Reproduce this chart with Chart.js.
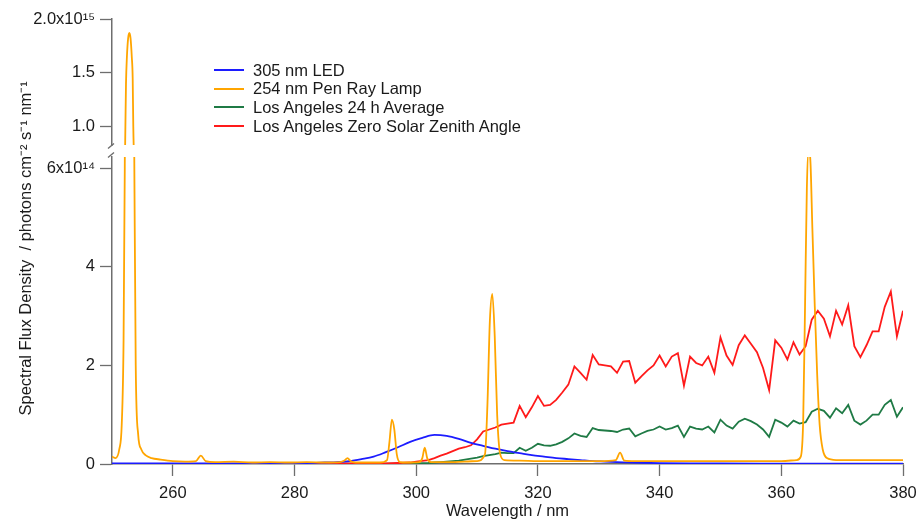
<!DOCTYPE html>
<html>
<head>
<meta charset="utf-8">
<script src="https://cdn.jsdelivr.net/npm/chart.js@4.4.1/dist/chart.umd.min.js"></script>
<style>
  html, body { margin: 0; padding: 0; background: #fff; }
  #wrap { position: relative; width: 920px; height: 520px; }
  #legend { position: absolute; left: 214px; top: 60.6px; font-family: 'Liberation Sans', Arial, sans-serif; font-size: 16.5px; color: #1a1a1a; }
  #legend .row { height: 18.7px; line-height: 18.7px; white-space: nowrap; display: flex; align-items: center; }
  #legend .swatch { width: 30px; height: 2px; margin-right: 9px; }
</style>
</head>
<body>
<div id="wrap">
  <canvas id="c" width="920" height="520"></canvas>
  <div id="legend"></div>
</div>
<script>
// ---- Data (flux in units of 1e14 photons cm^-2 s^-1 nm^-1) ----
const seriesNames = ['305 nm LED', '254 nm Pen Ray Lamp', 'Los Angeles 24 h Average', 'Los Angeles Zero Solar Zenith Angle'];
const seriesColors = ['#1c1cff', '#ffa500', '#1f7a45', '#ff1a1a'];

const wlLed = [250, 255, 260, 265, 270, 275, 280, 283, 285, 287, 289, 291, 293, 295, 297, 299, 301, 303, 305, 307, 309, 311, 313, 315, 317, 319, 321, 323, 325, 327, 329, 331, 334, 337, 340, 345, 350, 360, 370, 380];
const fluxLed = [0.01, 0.01, 0.01, 0.01, 0.01, 0.01, 0.015, 0.02, 0.03, 0.04, 0.06, 0.1, 0.15, 0.24, 0.34, 0.45, 0.53, 0.59, 0.57, 0.51, 0.43, 0.37, 0.31, 0.26, 0.22, 0.18, 0.15, 0.12, 0.1, 0.08, 0.06, 0.05, 0.035, 0.025, 0.018, 0.012, 0.01, 0.008, 0.006, 0.005];

const wlLamp = [250, 250.6, 251.2, 251.6, 251.9, 252.1, 252.2, 252.3, 252.45, 252.65, 252.85, 253.05, 253.25, 253.4, 253.5, 253.7, 253.9, 254.3, 254.8, 255.5, 256.5, 258, 260, 262, 263.8, 264.6, 265.4, 267, 270, 273, 276, 279, 282, 285, 287.5, 288.2, 288.7, 289.2, 290, 292, 294, 295.2, 295.6, 296.0, 296.4, 296.8, 297.3, 298.5, 300.5, 301.0, 301.4, 301.8, 302.4, 304, 306, 308, 310, 311.3, 311.7, 312.1, 312.5, 312.9, 313.3, 313.8, 314.5, 317, 320, 325, 330, 332.8, 333.5, 334.2, 336, 340, 345, 350, 355, 360, 362.5, 363.2, 363.6, 363.9, 364.2, 364.5, 364.8, 365.1, 365.5, 365.9, 366.3, 366.8, 367.5, 369, 372, 376, 380];
const fluxLamp = [0.15, 0.12, 0.3, 0.8, 2.5, 6.0, 10.0, 14.0, 16.5, 18.2, 18.7, 18.2, 16.5, 14.5, 10.0, 5.5, 2.0, 0.6, 0.3, 0.18, 0.12, 0.09, 0.06, 0.05, 0.06, 0.17, 0.06, 0.04, 0.05, 0.03, 0.04, 0.03, 0.04, 0.03, 0.04, 0.07, 0.12, 0.06, 0.03, 0.03, 0.03, 0.08, 0.45, 0.9, 0.7, 0.2, 0.04, 0.03, 0.04, 0.12, 0.33, 0.12, 0.04, 0.04, 0.04, 0.05, 0.06, 0.2, 1.2, 2.9, 3.45, 2.6, 1.0, 0.2, 0.08, 0.07, 0.06, 0.06, 0.06, 0.08, 0.23, 0.07, 0.06, 0.06, 0.06, 0.06, 0.06, 0.06, 0.08, 0.15, 0.9, 3.2, 5.6, 6.4, 6.1, 4.8, 3.2, 1.8, 0.8, 0.3, 0.12, 0.08, 0.08, 0.08, 0.08];

const wlSolar = [280, 281, 282, 283, 284, 285, 286, 287, 288, 289, 290, 291, 292, 293, 294, 295, 296, 297, 298, 299, 300, 301, 302, 303, 304, 305, 306, 307, 308, 309, 310, 311, 312, 313, 314, 315, 316, 317, 318, 319, 320, 321, 322, 323, 324, 325, 326, 327, 328, 329, 330, 331, 332, 333, 334, 335, 336, 337, 338, 339, 340, 341, 342, 343, 344, 345, 346, 347, 348, 349, 350, 351, 352, 353, 354, 355, 356, 357, 358, 359, 360, 361, 362, 363, 364, 365, 366, 367, 368, 369, 370, 371, 372, 373, 374, 375, 376, 377, 378, 379, 380];
const fluxZenith = [0.01, 0.01, 0.01, 0.01, 0.01, 0.01, 0.01, 0.01, 0.01, 0.01, 0.01, 0.01, 0.01, 0.01, 0.01, 0.01, 0.015, 0.02, 0.025, 0.03, 0.05, 0.065, 0.08, 0.12, 0.17, 0.21, 0.26, 0.31, 0.34, 0.38, 0.5, 0.66, 0.7, 0.74, 0.8, 0.82, 0.84, 1.18, 0.95, 1.15, 1.38, 1.18, 1.2, 1.3, 1.45, 1.61, 1.98, 1.85, 1.71, 2.21, 2.02, 2.0, 1.98, 1.85, 2.08, 2.09, 1.65, 1.78, 1.9, 2.0, 2.2, 1.98, 2.18, 2.25, 1.59, 2.18, 2.05, 2.0, 2.18, 1.85, 2.57, 2.2, 2.01, 2.41, 2.61, 2.44, 2.27, 1.95, 1.5, 2.51, 2.36, 2.12, 2.47, 2.22, 2.39, 2.93, 3.11, 2.95, 2.59, 3.11, 2.83, 3.22, 2.39, 2.17, 2.41, 2.69, 2.69, 3.19, 3.5, 2.59, 3.11];
const fluxAverage = [0.005, 0.005, 0.005, 0.005, 0.005, 0.005, 0.005, 0.005, 0.005, 0.005, 0.005, 0.005, 0.005, 0.005, 0.005, 0.005, 0.005, 0.005, 0.005, 0.01, 0.01, 0.015, 0.02, 0.03, 0.04, 0.05, 0.06, 0.07, 0.09, 0.11, 0.13, 0.16, 0.18, 0.2, 0.23, 0.22, 0.22, 0.33, 0.27, 0.33, 0.41, 0.38, 0.37, 0.4, 0.45, 0.52, 0.62, 0.57, 0.55, 0.73, 0.69, 0.68, 0.67, 0.65, 0.7, 0.72, 0.56, 0.62, 0.67, 0.7, 0.76, 0.7, 0.73, 0.78, 0.55, 0.76, 0.72, 0.7, 0.76, 0.64, 0.9, 0.78, 0.72, 0.86, 0.92, 0.87, 0.8, 0.7, 0.55, 0.9, 0.84, 0.76, 0.88, 0.82, 0.85, 1.06, 1.12, 1.08, 0.94, 1.13, 1.03, 1.2, 0.88, 0.8, 0.88, 1.0, 1.0, 1.2, 1.3, 0.96, 1.15];

const xTicks = [260, 280, 300, 320, 340, 360, 380];
const lowTicks = [0, 2, 4, 6];
const lowLabels = ['0', '2', '4', '6x10\u00B9\u2074'];
const topTicks = [10, 15, 20];
const topLabels = ['1.0', '1.5', '2.0x10\u00B9\u2075'];

// ---- helpers ----
const pts = (xs, ys) => xs.map((x, i) => ({ x: x, y: ys[i] }));
const FONT = "'Liberation Sans', Arial, sans-serif";
const AXIS = '#6e6e6e';
const TXT = '#1a1a1a';

// HTML legend
const legendEl = document.getElementById('legend');
seriesNames.forEach((n, i) => {
  const r = document.createElement('div'); r.className = 'row';
  const s = document.createElement('span'); s.className = 'swatch'; s.style.background = seriesColors[i];
  const t = document.createElement('span'); t.textContent = n;
  r.appendChild(s); r.appendChild(t); legendEl.appendChild(r);
});

const clipToScale = {
  id: 'clipToScale',
  beforeDatasetDraw(chart, args) {
    const ys = chart.scales[args.meta.yAxisID];
    const a = chart.chartArea;
    const ctx = chart.ctx;
    ctx.save();
    ctx.beginPath();
    ctx.rect(a.left - 2, ys.top, a.right - a.left + 4, ys.bottom - ys.top);
    ctx.clip();
  },
  afterDatasetDraw(chart) { chart.ctx.restore(); }
};

const axisBreak = {
  id: 'axisBreak',
  afterDraw(chart) {
    const ctx = chart.ctx;
    const x = chart.chartArea.left;
    const t = chart.scales.yTop.bottom;
    const l = chart.scales.yLow.top;
    ctx.save();
    ctx.strokeStyle = AXIS; ctx.lineWidth = 1.4;
    ctx.beginPath();
    ctx.moveTo(x - 4, t + 3.5); ctx.lineTo(x + 2, t - 1.5);
    ctx.moveTo(x - 4, l + 0.5); ctx.lineTo(x + 2, l - 4.5);
    ctx.stroke();
    ctx.restore();
  }
};

const baseLine = { pointRadius: 0, borderWidth: 1.8, fill: false };

const yStackCommon = (w) => ({
  type: 'linear', position: 'left', stack: 'flux', stackWeight: w,
  afterFit(s) { s.width = 84; }
});

new Chart(document.getElementById('c'), {
  type: 'line',
  data: {
    datasets: [
      Object.assign({ label: seriesNames[1], data: pts(wlLamp, fluxLamp), borderColor: seriesColors[1], yAxisID: 'yLow', cubicInterpolationMode: 'monotone' }, baseLine),
      Object.assign({ label: seriesNames[1] + ' (upper)', data: pts(wlLamp, fluxLamp), borderColor: seriesColors[1], yAxisID: 'yTop', cubicInterpolationMode: 'monotone' }, baseLine),
      Object.assign({ label: seriesNames[0], data: pts(wlLed, fluxLed), borderColor: seriesColors[0], yAxisID: 'yLow', cubicInterpolationMode: 'monotone' }, baseLine),
      Object.assign({ label: seriesNames[3], data: pts(wlSolar, fluxZenith), borderColor: seriesColors[3], yAxisID: 'yLow', tension: 0 }, baseLine),
      Object.assign({ label: seriesNames[2], data: pts(wlSolar, fluxAverage), borderColor: seriesColors[2], yAxisID: 'yLow', tension: 0 }, baseLine)
    ]
  },
  options: {
    responsive: false,
    animation: false,
    layout: { padding: { left: 0, right: 17, top: 19, bottom: 0 } },
    plugins: { legend: { display: false }, tooltip: { enabled: false } },
    scales: {
      x: {
        type: 'linear', position: 'bottom', min: 250, max: 380,
        afterBuildTicks(s) { s.ticks = xTicks.map(v => ({ value: v })); },
        afterFit(s) { s.height = 56; s.paddingRight = 0; s.paddingLeft = 0; },
        grid: { drawOnChartArea: false, drawTicks: true, tickLength: 12, tickColor: AXIS, tickWidth: 1.3 },
        border: { display: true, color: AXIS, width: 1.5 },
        ticks: { padding: 8, color: TXT, font: { family: FONT, size: 16.5 }, maxRotation: 0 },
        title: { display: true, text: 'Wavelength / nm', color: TXT, font: { family: FONT, size: 16.5, lineHeight: 1.0 }, padding: { top: 0, bottom: 0 } }
      },
      yTitle: {
        type: 'linear', position: 'left', weight: 10, min: 0, max: 1,
        afterFit(s) { s.width = 28; },
        grid: { display: false }, ticks: { display: false }, border: { display: false },
        title: { display: true, text: 'Spectral Flux Density  / photons cm\u207B\u00B2 s\u207B\u00B9 nm\u207B\u00B9\u00A0\u00A0\u00A0', color: TXT, font: { family: FONT, size: 16.5 }, padding: { top: 17, bottom: 0 } }
      },
      yLow: Object.assign(yStackCommon(307), {
        min: 0, max: 6.23,
        afterBuildTicks(s) { s.ticks = lowTicks.map(v => ({ value: v })); },
        grid: { drawOnChartArea: false, drawTicks: true, tickLength: 12, tickColor: AXIS, tickWidth: 1.3 },
        border: { display: true, color: AXIS, width: 1.5 },
        ticks: { padding: 5, color: TXT, font: { family: FONT, size: 16.5 }, callback: (v, i) => lowLabels[i] }
      }),
      yGap: Object.assign(yStackCommon(12), {
        min: 0, max: 1,
        grid: { display: false }, ticks: { display: false }, border: { display: false }
      }),
      yTop: Object.assign(yStackCommon(126), {
        min: 8.3, max: 20,
        afterBuildTicks(s) { s.ticks = topTicks.map(v => ({ value: v })); },
        grid: { drawOnChartArea: false, drawTicks: true, tickLength: 12, tickColor: AXIS, tickWidth: 1.3 },
        border: { display: true, color: AXIS, width: 1.5 },
        ticks: { padding: 5, color: TXT, font: { family: FONT, size: 16.5 }, callback: (v, i) => topLabels[i] }
      })
    }
  },
  plugins: [clipToScale, axisBreak]
});
</script>
</body>
</html>
